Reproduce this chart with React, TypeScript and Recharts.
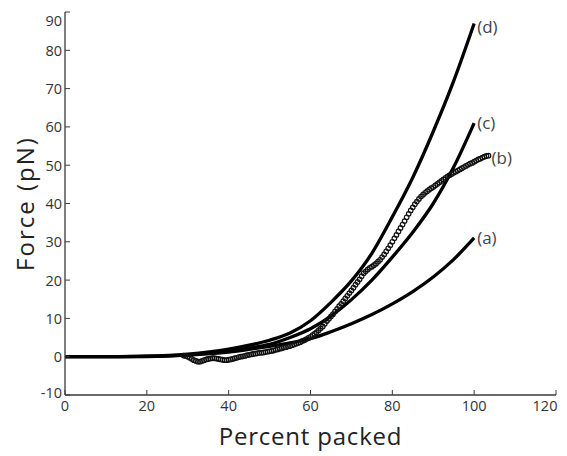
import React from 'react';
import { LineChart, Line, XAxis, YAxis, ReferenceDot } from 'recharts';

// Model curves (a), (c), (d)
const curveX = [0, 10, 20, 30, 40, 45, 50, 55, 60, 65, 70, 75, 80, 85, 90, 95, 100];
const aY = [0, 0.01, 0.05, 0.4, 1.2, 1.9, 2.7, 3.6, 4.7, 6.5, 8.6, 11, 13.8, 17, 20.8, 25.4, 31];
const cY = [0, 0.01, 0.08, 0.5, 1.5, 2.3, 3.2, 5.0, 7.3, 10.6, 14.9, 20, 26, 32.5, 40, 49.5, 61];
const dY = [0, 0.02, 0.15, 0.7, 2.0, 3.0, 4.3, 6.2, 9.4, 14.2, 19.8, 27, 36.5, 46.8, 58.8, 72, 87];

// Measured data (b)
const bX = [29, 29.5, 30, 30.5, 31, 31.5, 32, 32.5, 33, 33.5, 34, 34.5, 35, 35.5, 36, 36.5, 37, 37.5,
  38, 38.5, 39, 39.5, 40, 40.5, 41, 41.5, 42, 42.5, 43, 43.5, 44, 44.5, 45, 45.5, 46, 46.5, 47, 47.5,
  48, 48.5, 49, 49.5, 50, 50.5, 51, 51.5, 52, 52.5, 53, 53.5, 54, 54.5, 55, 55.5, 56, 56.5, 57, 57.5,
  58, 58.5, 59, 59.5, 60, 60.5, 61, 61.5, 62, 62.5, 63, 63.5, 64, 64.5, 65, 65.5, 66, 66.5, 67, 67.5,
  68, 68.5, 69, 69.5, 70, 70.5, 71, 71.5, 72, 72.5, 73, 73.5, 74, 74.5, 75, 75.5, 76, 76.5, 77, 77.5,
  78, 78.5, 79, 79.5, 80, 80.5, 81, 81.5, 82, 82.5, 83, 83.5, 84, 84.5, 85, 85.5, 86, 86.5, 87, 87.5,
  88, 88.5, 89, 89.5, 90, 90.5, 91, 91.5, 92, 92.5, 93, 93.5, 94, 94.5, 95, 95.5, 96, 96.5, 97, 97.5,
  98, 98.5, 99, 99.5, 100, 100.5, 101, 101.5, 102, 102.5, 103, 103.5];
const bY = [0.3, 0.2, 0.0, -0.3, -0.6, -0.9, -1.1, -1.3, -1.3, -1.1, -0.9, -0.7, -0.6, -0.5, -0.4, -0.4, -0.5, -0.6,
  -0.7, -0.8, -0.9, -0.9, -0.8, -0.7, -0.6, -0.4, -0.3, -0.1, 0.0, 0.1, 0.2, 0.4, 0.5, 0.6, 0.7, 0.8, 0.9, 1.0,
  1.0, 1.1, 1.2, 1.3, 1.4, 1.5, 1.6, 1.8, 1.9, 2.1, 2.2, 2.4, 2.5, 2.7, 2.8, 3.0, 3.2, 3.4, 3.6, 3.8,
  4.1, 4.3, 4.6, 4.9, 5.2, 5.6, 6.0, 6.4, 6.9, 7.4, 7.9, 8.6, 9.3, 9.9, 10.5, 11.1, 11.8, 12.5, 13.2, 13.8,
  14.5, 15.2, 15.9, 16.6, 17.3, 18.0, 18.8, 19.5, 20.2, 21.0, 21.8, 22.3, 22.8, 23.2, 23.5, 23.9, 24.3, 24.8, 25.3, 26.0,
  26.7, 27.5, 28.3, 29.1, 30.0, 30.9, 31.8, 32.7, 33.6, 34.5, 35.4, 36.4, 37.3, 38.2, 39.0, 39.8, 40.5, 41.2, 41.8, 42.3,
  42.8, 43.2, 43.6, 44.0, 44.3, 44.7, 45.1, 45.5, 45.9, 46.3, 46.7, 47.1, 47.4, 47.7, 48.0, 48.3, 48.6, 48.9, 49.2, 49.5,
  49.8, 50.1, 50.4, 50.6, 50.9, 51.2, 51.5, 51.7, 52.0, 52.2, 52.4, 52.5];

const xTicks = [0, 20, 40, 60, 80, 100, 120];
const yTicks = [-10, 0, 10, 20, 30, 40, 50, 60, 70, 80, 90];
const curveLabels = ['(a)', '(b)', '(c)', '(d)'];

const toPts = (xs: number[], ys: number[]) => xs.map((x, i) => ({ x, y: ys[i] }));
const aData = toPts(curveX, aY);
const cData = toPts(curveX, cY);
const dData = toPts(curveX, dY);
const bData = toPts(bX, bY);

const FONT = '"Open Sans", "DejaVu Sans", sans-serif';
const AXIS = '#3a3a3a';
const TICK_FILL = '#333';

const XTick = (props: any) => {
  const { x, y, payload } = props;
  const v = payload.value;
  const dx = v === xTicks[xTicks.length - 1] ? -10 : 0;
  return (
    <text x={x + dx} y={y} dy="0.71em" textAnchor="middle" fontSize={14.5} fill={TICK_FILL} fontFamily={FONT}>
      {v}
    </text>
  );
};

const YTick = (props: any) => {
  const { x, y, payload } = props;
  const v = payload.value;
  const dy = v === yTicks[yTicks.length - 1] ? 3 : v === yTicks[0] ? -3 : 0;
  return (
    <text x={x} y={y + dy} textAnchor="end" dominantBaseline="central" fontSize={14.5} fill={TICK_FILL} fontFamily={FONT}>
      {v}
    </text>
  );
};

const Marker = (props: any) => {
  const { cx, cy, index } = props;
  if (cx == null || cy == null) return <g key={`m-${index}`} />;
  return <circle key={`m-${index}`} cx={cx} cy={cy} r={2.3} fill="none" stroke="#111" strokeWidth={1.2} />;
};

const endLabel = (text: string, dy: number) => ({
  value: text,
  position: 'right' as const,
  content: (p: any) => {
    const vb = p.viewBox || {};
    return (
      <text x={vb.x + 3} y={vb.y + dy} dominantBaseline="central" fontSize={17} fill="#444" fontFamily={FONT}>
        {text}
      </text>
    );
  },
});

export default function App() {
  const lastA = aData[aData.length - 1];
  const lastB = bData[bData.length - 1];
  const lastC = cData[cData.length - 1];
  const lastD = dData[dData.length - 1];
  return (
    <LineChart width={559} height={448} margin={{ top: 4, right: 11, bottom: 0, left: 0 }}>
      <XAxis
        xAxisId="b"
        type="number"
        dataKey="x"
        domain={[0, 120]}
        ticks={xTicks}
        allowDataOverflow
        height={61}
        tickSize={-5}
        tickMargin={11}
        tick={XTick}
        axisLine={{ stroke: AXIS, strokeWidth: 1.3 }}
        tickLine={{ stroke: AXIS }}
        label={{ value: 'Percent packed', position: 'insideBottom', offset: 11, fontSize: 24, fill: '#222', fontFamily: FONT, letterSpacing: 0.8 }}
      />
      <XAxis
        xAxisId="t"
        orientation="top"
        type="number"
        dataKey="x"
        domain={[0, 120]}
        ticks={xTicks}
        height={0}
        tickSize={-5}
        tick={false}
        axisLine={{ stroke: AXIS, strokeWidth: 1.3 }}
        tickLine={{ stroke: AXIS }}
      />
      <YAxis
        yAxisId="l"
        type="number"
        dataKey="y"
        domain={[-10, 90]}
        ticks={yTicks}
        allowDataOverflow
        width={57}
        tickSize={-5}
        tickMargin={8}
        tick={YTick}
        axisLine={{ stroke: AXIS, strokeWidth: 1.3 }}
        tickLine={{ stroke: AXIS }}
        label={{ value: 'Force (pN)', angle: -90, position: 'insideLeft', offset: 17, fontSize: 24, fill: '#222', fontFamily: FONT, letterSpacing: 2, style: { textAnchor: 'middle' } }}
      />
      <YAxis
        yAxisId="r"
        orientation="right"
        type="number"
        dataKey="y"
        domain={[-10, 90]}
        ticks={yTicks}
        width={0}
        tickSize={-5}
        tick={false}
        axisLine={{ stroke: AXIS, strokeWidth: 1.3 }}
        tickLine={{ stroke: AXIS }}
      />
      <Line xAxisId="b" yAxisId="l" data={aData} dataKey="y" type="monotone" stroke="#000" strokeWidth={3.3} dot={false} isAnimationActive={false} />
      <Line xAxisId="b" yAxisId="l" data={cData} dataKey="y" type="monotone" stroke="#000" strokeWidth={3.3} dot={false} isAnimationActive={false} />
      <Line xAxisId="b" yAxisId="l" data={dData} dataKey="y" type="monotone" stroke="#000" strokeWidth={3.3} dot={false} isAnimationActive={false} />
      <Line xAxisId="b" yAxisId="l" data={bData} dataKey="y" stroke="none" dot={Marker} isAnimationActive={false} />
      <ReferenceDot xAxisId="b" yAxisId="l" x={lastA.x} y={lastA.y} r={0} fill="none" stroke="none" label={endLabel(curveLabels[0], 0)} />
      <ReferenceDot xAxisId="b" yAxisId="l" x={lastB.x} y={lastB.y} r={0} fill="none" stroke="none" label={endLabel(curveLabels[1], 2)} />
      <ReferenceDot xAxisId="b" yAxisId="l" x={lastC.x} y={lastC.y} r={0} fill="none" stroke="none" label={endLabel(curveLabels[2], -1)} />
      <ReferenceDot xAxisId="b" yAxisId="l" x={lastD.x} y={lastD.y} r={0} fill="none" stroke="none" label={endLabel(curveLabels[3], 3)} />
    </LineChart>
  );
}
